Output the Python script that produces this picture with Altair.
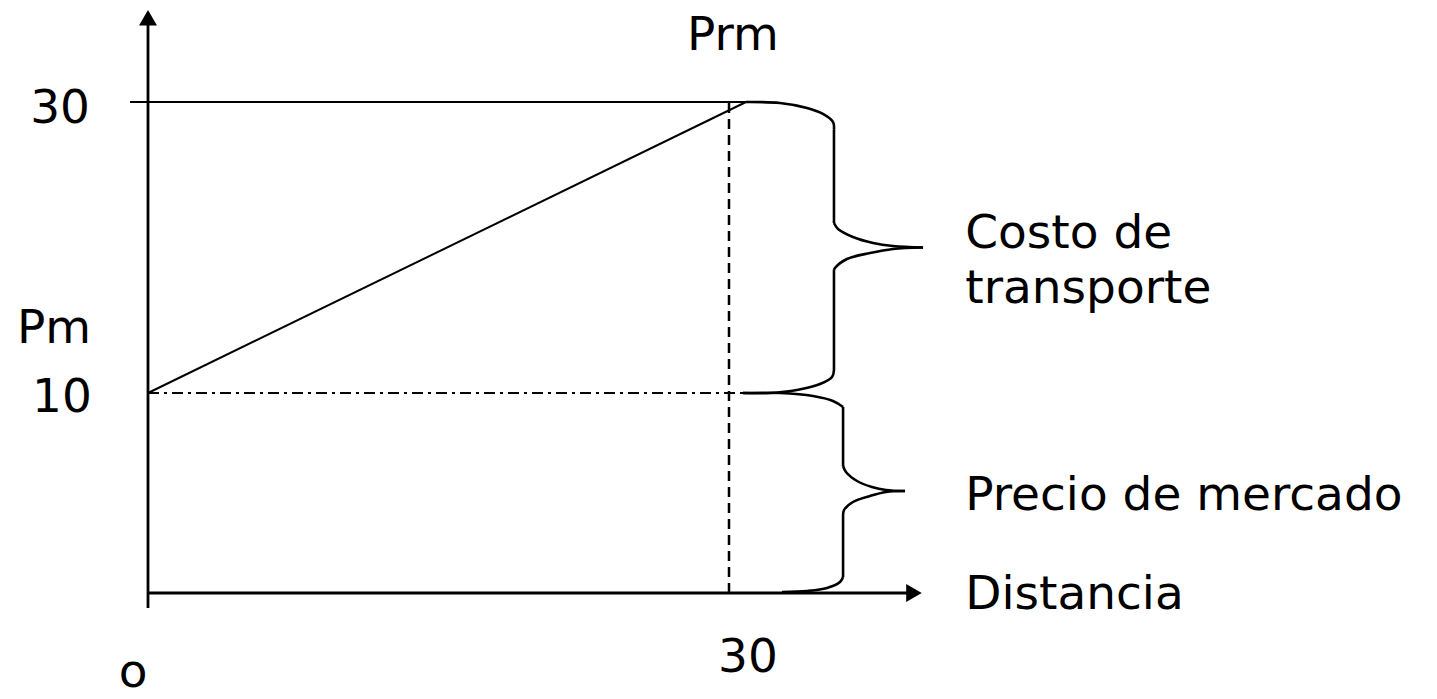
import altair as alt
import pandas as pd

# ---------------- values (diagram units: x = distancia, y = precio) ----------------
# axes
axis_names = ["eje_y", "eje_x"]
axis_x0 = [0.0, 0.0]
axis_x1 = [0.0, 39.3]
axis_y0 = [-0.75, 0.0]
axis_y1 = [35.8, 0.0]

# solid thin lines: level 30 and transport-cost slope from Pm=10 to Prm=30
solid_names = ["nivel_30", "pendiente"]
solid_x0 = [-0.93, 0.0]
solid_x1 = [30.88, 30.88]
solid_y0 = [30.0, 10.0]
solid_y1 = [30.0, 30.0]

# dashed vertical at distance 30
dash_x0, dash_x1 = [30.0], [30.0]
dash_y0, dash_y1 = [0.0], [30.0]

# dash-dot horizontal at Pm = 10
dd_x0, dd_x1 = [0.0], [30.8]
dd_y0, dd_y1 = [10.0], [10.0]

# arrow heads
arrow_x = [0.0, 39.55]
arrow_y = [35.79, 0.0]
arrow_shape = ["triangle-up", "triangle-right"]

# braces: each segment is a list of (x, y) points
brace_cost = [
    [(30.88, 30.0), (32.63, 29.93), (34.03, 29.59), (34.85, 29.18), (35.37, 28.63), (35.42, 28.08)],
    [(35.42, 28.08), (35.42, 21.68)],
    [(35.42, 21.68), (35.63, 21.27), (36.40, 20.72), (37.44, 20.31), (38.47, 20.10), (40.02, 20.0)],
    [(40.02, 20.0), (38.47, 19.90), (37.28, 19.62), (36.09, 19.21), (35.47, 18.59), (35.42, 18.45)],
    [(35.42, 18.45), (35.42, 11.58)],
    [(35.42, 11.58), (35.32, 11.10), (34.70, 10.62), (33.51, 10.21), (32.12, 10.0), (30.72, 10.0)],
]
brace_price = [
    [(30.72, 10.0), (32.63, 10.0), (34.34, 9.85), (35.37, 9.6), (35.89, 9.3)],
    [(35.89, 9.3), (35.89, 6.35)],
    [(35.89, 6.35), (36.04, 6.05), (36.61, 5.6), (37.38, 5.3), (38.11, 5.15), (39.09, 5.1)],
    [(39.09, 5.1), (38.11, 5.05), (37.28, 4.85), (36.40, 4.55), (35.94, 4.15), (35.89, 3.85)],
    [(35.89, 3.85), (35.89, 0.8)],
    [(35.89, 0.8), (35.73, 0.55), (35.06, 0.25), (34.03, 0.1), (32.74, 0.05)],
]

# labels
center_text = ["Prm", "30", "Pm", "10", "o", "30"]
center_x = [30.2, -4.54, -4.85, -4.44, -0.77, 30.98]
center_y = [33.57, 28.56, 13.44, 9.05, -4.7, -3.95]

left_text = ["Costo de", "transporte", "Precio de mercado", "Distancia"]
left_x = [42.2, 42.2, 42.2, 42.2]
left_y = [19.97, 16.19, 4.15, -0.8]

# ---------------- tables ----------------
axes_df = pd.DataFrame({"n": axis_names, "x": axis_x0, "x2": axis_x1, "y": axis_y0, "y2": axis_y1})
solid_df = pd.DataFrame({"n": solid_names, "x": solid_x0, "x2": solid_x1, "y": solid_y0, "y2": solid_y1})
dash_df = pd.DataFrame({"x": dash_x0, "x2": dash_x1, "y": dash_y0, "y2": dash_y1})
dd_df = pd.DataFrame({"x": dd_x0, "x2": dd_x1, "y": dd_y0, "y2": dd_y1})
arrow_df = pd.DataFrame({"x": arrow_x, "y": arrow_y, "shape": arrow_shape})

rows = []
for bname, brace in (("costo", brace_cost), ("precio", brace_price)):
    for si, seg in enumerate(brace):
        for pi, (px, py) in enumerate(seg):
            rows.append({"seg": f"{bname}_{si}", "i": pi, "x": px, "y": py})
brace_df = pd.DataFrame(rows)

center_df = pd.DataFrame({"t": center_text, "x": center_x, "y": center_y})
left_df = pd.DataFrame({"t": left_text, "x": left_x, "y": left_y})

# ---------------- scales ----------------
xs = alt.Scale(domain=[0, 30], range=[148, 729], zero=False, nice=False)
ys = alt.Scale(domain=[0, 10, 30], range=[593, 393, 102], zero=False, nice=False)

X = lambda: alt.X("x:Q", scale=xs, axis=None)
Y = lambda: alt.Y("y:Q", scale=ys, axis=None)

axes_layer = alt.Chart(axes_df).mark_rule(color="black", strokeWidth=2.8).encode(
    x=X(), x2="x2:Q", y=Y(), y2="y2:Q")
solid_layer = alt.Chart(solid_df).mark_rule(color="black", strokeWidth=2).encode(
    x=X(), x2="x2:Q", y=Y(), y2="y2:Q")
dash_layer = alt.Chart(dash_df).mark_rule(color="black", strokeWidth=2.5, strokeDash=[10, 6]).encode(
    x=X(), x2="x2:Q", y=Y(), y2="y2:Q")
dd_layer = alt.Chart(dd_df).mark_rule(color="black", strokeWidth=2, strokeDash=[11, 5, 3, 5]).encode(
    x=X(), x2="x2:Q", y=Y(), y2="y2:Q")

brace_layer = alt.Chart(brace_df).mark_line(color="black", strokeWidth=2.6, interpolate="catmull-rom").encode(
    x=X(), y=Y(), detail="seg:N", order="i:Q")

arrow_up = alt.Chart(arrow_df[arrow_df["shape"] == "triangle-up"]).mark_point(
    shape="triangle-up", filled=True, size=324, color="black", opacity=1, strokeWidth=0
).encode(x=X(), y=Y())
arrow_right = alt.Chart(arrow_df[arrow_df["shape"] == "triangle-right"]).mark_point(
    shape="triangle-right", filled=True, size=324, color="black", opacity=1, strokeWidth=0
).encode(x=X(), y=Y())

font = "DejaVu Sans"
center_layer = alt.Chart(center_df).mark_text(
    font=font, fontSize=47, align="center", baseline="alphabetic", color="black"
).encode(x=X(), y=Y(), text="t:N")
left_layer = alt.Chart(left_df).mark_text(
    font=font, fontSize=47, align="left", baseline="alphabetic", color="black"
).encode(x=X(), y=Y(), text="t:N")

chart = alt.layer(
    axes_layer, solid_layer, dash_layer, dd_layer, brace_layer,
    arrow_up, arrow_right, center_layer, left_layer
).properties(
    width=1437, height=699, autosize=alt.AutoSizeParams(type="none"), padding=0,
    background="white"
).configure_view(stroke=None)

chart.save("out.html", embed_options={"renderer": "svg", "actions": False})
